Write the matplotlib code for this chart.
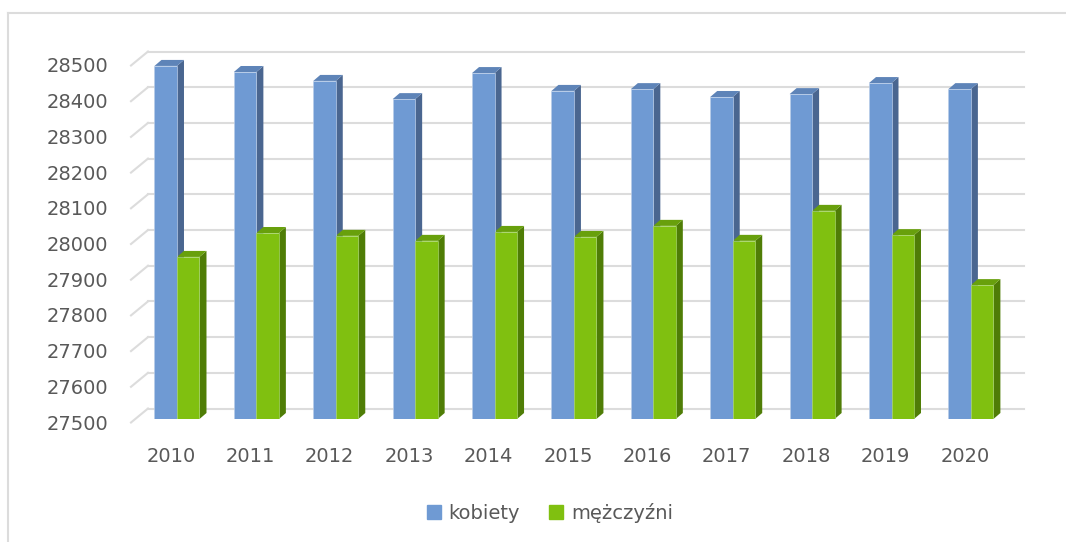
import matplotlib
matplotlib.use("Agg")
import matplotlib.pyplot as plt
from matplotlib.patches import Polygon, Rectangle
from matplotlib.lines import Line2D
from matplotlib.transforms import offset_copy, ScaledTranslation
import numpy as np

years = ["2010", "2011", "2012", "2013", "2014", "2015", "2016", "2017", "2018", "2019", "2020"]
kobiety = [28489, 28472, 28447, 28396, 28469, 28419, 28424, 28402, 28410, 28441, 28424]
mezczyzni = [27954, 28021, 28013, 27999, 28024, 28010, 28041, 27999, 28083, 28015, 27875]
yticks = [27500, 27600, 27700, 27800, 27900, 28000, 28100, 28200, 28300, 28400, 28500]
labels = ["kobiety", "mężczyźni"]

blue = ["#6F9AD3", "#4A6690", "#5E84B8"]    # front, side, top
green = ["#80C010", "#4F7D06", "#68A00C"]
grid_c = "#DCDCDC"
text_c = "#595959"

W, H = 1066, 542
fig = plt.figure(figsize=(W / 100, H / 100), dpi=100)

# front plane of the bars, in pixels
left_px, right_px, top_px, bot_px = 133, 1009, 62, 419
ax = fig.add_axes([left_px / W, 1 - bot_px / H, (right_px - left_px) / W, (bot_px - top_px) / H])
xlim = (-0.554, 10.48)
ylim = (yticks[0], yticks[-1])
ax.set_xlim(*xlim)
ax.set_ylim(*ylim)
for s in ax.spines.values():
    s.set_visible(False)

px_x = (right_px - left_px) / (xlim[1] - xlim[0])
px_y = (bot_px - top_px) / (ylim[1] - ylim[0])

# back wall gridlines and side wall lines
back = offset_copy(ax.transData, fig=fig, x=15, y=10.5, units="dots")
for v in yticks:
    ax.add_line(Line2D(xlim, [v, v], transform=back, color=grid_c, lw=1.5, clip_on=False, zorder=0))
    x0, y0 = ax.transData.transform((xlim[0], v))
    ax.add_line(Line2D([x0 - 2, x0 + 15], [y0 - 3.5, y0 + 10.5], transform=None,
                       color=grid_c, lw=1.5, clip_on=False, zorder=0))

# 3D-looking bars
x = np.arange(len(years))
w = 22.5 / px_x
dx = 7 / px_x
dy = 6 / px_y
base = ylim[0]
for vals, col, sign in [(kobiety, blue, -1), (mezczyzni, green, 1)]:
    xs = x + sign * w / 2
    ax.bar(xs, np.array(vals) - base, bottom=base, width=w, color=col[0],
           edgecolor="#B8CCE8" if sign < 0 else "#A6D46A", linewidth=0.5, zorder=3)
    for xc, v in zip(xs, vals):
        xl, xr = xc - w / 2, xc + w / 2
        ax.add_patch(Polygon([(xr, base), (xr, v), (xr + dx, v + dy), (xr + dx, base + dy)],
                             closed=True, color=col[1], lw=0, zorder=2, clip_on=False))
        ax.add_patch(Polygon([(xl, v), (xr, v), (xr + dx, v + dy), (xl + dx, v + dy)],
                             closed=True, color=col[2], lw=0, zorder=2, clip_on=False))

ax.set_yticks(yticks)
ax.set_yticklabels([str(t) for t in yticks])
ax.set_xticks(x - 6 / px_x)
ax.set_xticklabels(years)
ax.tick_params(axis="y", length=0, pad=18, labelsize=14, labelcolor=text_c)
ax.tick_params(axis="x", length=0, pad=20, labelsize=14, labelcolor=text_c)
shift = ScaledTranslation(0, -3 / 100, fig.dpi_scale_trans)
for lab in ax.get_yticklabels():
    lab.set_transform(lab.get_transform() + shift)

handles = [Rectangle((0, 0), 1, 1, color=blue[0]), Rectangle((0, 0), 1, 1, color=green[0])]
leg = fig.legend(handles, labels, loc="center", bbox_to_anchor=(0.516, 0.0535), ncol=2,
                 frameon=False, fontsize=14, handlelength=0.7, handleheight=0.7,
                 handletextpad=0.4, columnspacing=1.5)
for t in leg.get_texts():
    t.set_color(text_c)

# outer chart border
fig.add_artist(Line2D([8 / W, 8 / W], [0, 1 - 13 / H], color=grid_c, lw=1.5))
fig.add_artist(Line2D([8 / W, 1], [1 - 13 / H, 1 - 13 / H], color=grid_c, lw=1.5))

fig.savefig("out.png", dpi=100)
